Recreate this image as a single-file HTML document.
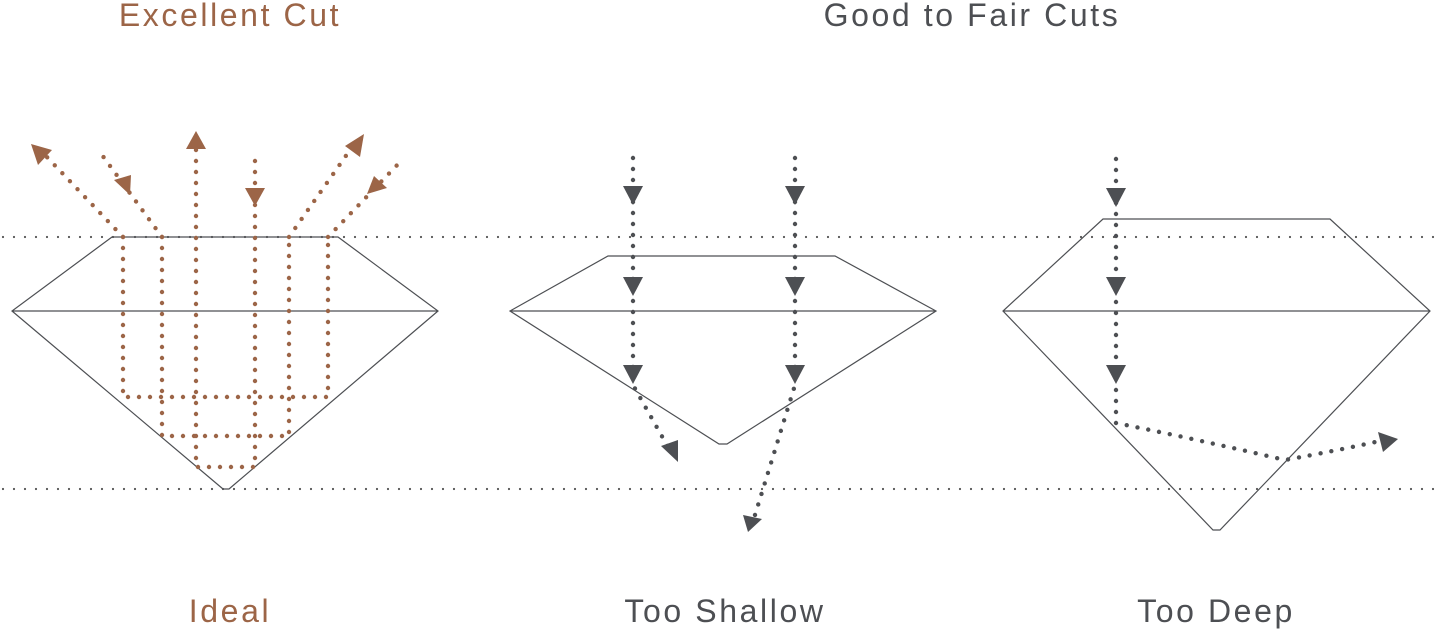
<!DOCTYPE html>
<html><head><meta charset="utf-8"><style>
html,body{margin:0;padding:0;background:#fff;width:1440px;height:630px;overflow:hidden}
svg{display:block}
text{font-family:"Liberation Sans",sans-serif;font-size:32px;letter-spacing:2.6px}
</style></head><body>
<svg width="1440" height="630" viewBox="0 0 1440 630">
<g stroke="#555" stroke-width="2.2" stroke-dasharray="0 11" stroke-linecap="round" fill="none">
<line x1="3" y1="237" x2="1440" y2="237"/>
<line x1="3" y1="489" x2="1440" y2="489"/>
</g>
<g stroke="#4d4f53" stroke-width="1.2" fill="none">
<path d="M112,237H338L438,311L229,489H223L12,311Z M12,311H438"/>
<path d="M608,256H835L936,311L727,444H719L510,311Z M510,311H936"/>
<path d="M1103,219H1330L1430,311L1220,530H1213L1003,311Z M1003,311H1430"/>
</g>
<g stroke="#9c6547" stroke-width="4.4" stroke-dasharray="0 11" stroke-linecap="round" fill="none">
<path d="M123,237V397H328V237"/>
<path d="M162,237V436H289V237"/>
<path d="M196,150V467H255V160"/>
<path d="M123,237L45,155"/>
<path d="M162,237L102,155"/>
<path d="M289,237L350,150"/>
<path d="M328,237L402,160"/>
</g>
<g fill="#9c6547">
<polygon points="31,144 52,150 38,165"/>
<polygon points="114,180 131,175 130,195"/>
<polygon points="196,131 206,149 186,149"/>
<polygon points="245,188 265,188 255,206"/>
<polygon points="364,134 345,146 360,157"/>
<polygon points="367,194 387,188 374,176"/>
</g>
<g stroke="#4d4f53" stroke-width="4.4" stroke-dasharray="0 11" stroke-linecap="round" fill="none">
<path d="M633,158V385L668,447"/>
<path d="M795,158V385L755,515"/>
<path d="M1116,159V423Q1200,440 1285,460Q1340,450 1380,441"/>
</g>
<g fill="#4d4f53">
<polygon points="623,186 643,186 633,205"/>
<polygon points="623,277 643,277 633,296"/>
<polygon points="623,365 643,365 633,384"/>
<polygon points="785,186 805,186 795,205"/>
<polygon points="785,277 805,277 795,296"/>
<polygon points="785,365 805,365 795,384"/>
<polygon points="1106,188 1126,188 1116,207"/>
<polygon points="1106,277 1126,277 1116,296"/>
<polygon points="1106,365 1126,365 1116,384"/>
<polygon points="661,446 678,440 678,462"/>
<polygon points="743,515 762,519 748,532"/>
<polygon points="1378,432 1398,439 1383,452"/>
</g>
<g text-anchor="middle">
<text x="230" y="26" fill="#9c6547">Excellent Cut</text>
<text x="972" y="26" fill="#4d4f53">Good to Fair Cuts</text>
<text x="230" y="622" fill="#9c6547">Ideal</text>
<text x="725" y="622" fill="#4d4f53">Too Shallow</text>
<text x="1216" y="622" fill="#4d4f53">Too Deep</text>
</g>
</svg>
</body></html>
